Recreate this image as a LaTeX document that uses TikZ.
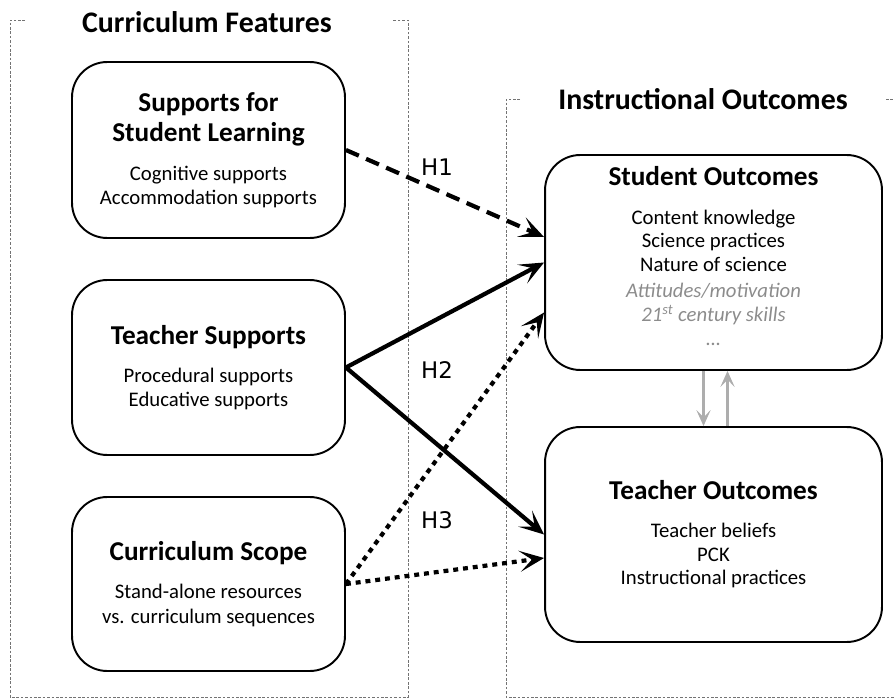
\documentclass[tikz,border=0pt]{standalone}
\usepackage{fontspec}
\setmainfont{Carlito}
\newfontfamily\hfont{DejaVu Sans}
\usetikzlibrary{arrows.meta}
\newcommand\btitle{\fontsize{15.5}{17}\selectfont\bfseries}
\newcommand\gline{\color{black!45}\itshape}
\begin{document}
\begin{tikzpicture}
[x=0.02cm,y=-0.02cm,
  boxDecorate/.style={draw,line width=1.1pt,rounded corners=20pt,align=center,
    inner sep=0pt,font=\fontsize{11.8}{13.5}\selectfont},
  titleDecorate/.style={font=\fontsize{17}{20}\selectfont\bfseries},
  frameDecorate/.style={draw=black!55,line width=0.5pt,dash pattern=on 1.5pt off 1pt},
  hypDecorate/.style={font=\hfont\fontsize{13}{15}\selectfont},
  solidArrow/.style={line width=2.4pt,-{Stealth[length=14pt,width=12pt,inset=7pt]}},
  dashArrow/.style={solidArrow,dash pattern=on 8pt off 4.5pt},
  dotArrow/.style={solidArrow,dash pattern=on 2.8pt off 2.8pt},
  greyArrow/.style={draw=black!32,line width=1.8pt,-{Stealth[length=9pt,width=8pt,inset=4pt]}}]
\useasboundingbox (0,0) rectangle (895,699);
%% frames
\draw[frameDecorate] (25,20) -| (10,697) -| (408,20) -- (393,20);
\draw[frameDecorate] (520,99) -| (506,697) -- (895,697);
\draw[frameDecorate] (886,99) -- (895,99);
\node (feat) at (207,22) [titleDecorate] {Curriculum\ Features};
\node (inst) at (703,99) [titleDecorate] {Instructional Outcomes};
%% boxes
\node (sup) at (208.5,150) [boxDecorate,minimum width=5.46cm,minimum height=3.52cm]
  {{\btitle Supports for}\\[3.5pt]{\btitle Student Learning}\\[9pt]
   Cognitive supports\\Accommodation supports};
\node (tsup) at (208.5,367.5) [boxDecorate,minimum width=5.46cm,minimum height=3.5cm]
  {{\btitle Teacher Supports}\\[8.5pt]
   Procedural supports\\Educative supports};
\node (scope) at (208.5,584) [boxDecorate,minimum width=5.46cm,minimum height=3.48cm]
  {{\btitle Curriculum Scope}\\[8pt]
   Stand-alone resources\\[0.5pt]vs. curriculum sequences};
\node (so) at (713.5,262.5) [boxDecorate,minimum width=6.74cm,minimum height=4.3cm]
  {{\btitle Student Outcomes}\\[8.5pt]
   Content knowledge\\Science practices\\Nature of science\\[1.5pt]
   {\gline Attitudes/motivation}\\
   {\gline 21\textsuperscript{st} century skills}\\
   {\gline \dots}\\[-6pt]\mbox{}};
\node (to) at (713.5,534.5) [boxDecorate,minimum width=6.74cm,minimum height=4.3cm]
  {{\btitle Teacher Outcomes}\\[8pt]
   Teacher beliefs\\PCK\\Instructional practices};
%% hypotheses
\node (h1) at (437,167) [hypDecorate] {H1};
\node (h2) at (437,370) [hypDecorate] {H2};
\node (h3) at (437,520) [hypDecorate] {H3};
%% arrow ends
\coordinate (so1) at ([yshift=0.51cm]so.west);
\coordinate (so3) at ([yshift=-1cm]so.west);
\coordinate (to2) at ([yshift=-0.47cm]to.west);
\path
\foreach \startnode/\endnode/\kind in {
  sup.east/so1/dashArrow, tsup.east/so.west/solidArrow, tsup.east/to.west/solidArrow,
  scope.east/so3/dotArrow, scope.east/to2/dotArrow}
{
  (\startnode) edge[\kind] (\endnode)
};
\draw[greyArrow] ([xshift=-0.2cm]so.south) -- ([xshift=-0.2cm]to.north);
\draw[greyArrow] ([xshift=0.28cm]to.north) -- ([xshift=0.28cm]so.south);
\end{tikzpicture}
\end{document}
